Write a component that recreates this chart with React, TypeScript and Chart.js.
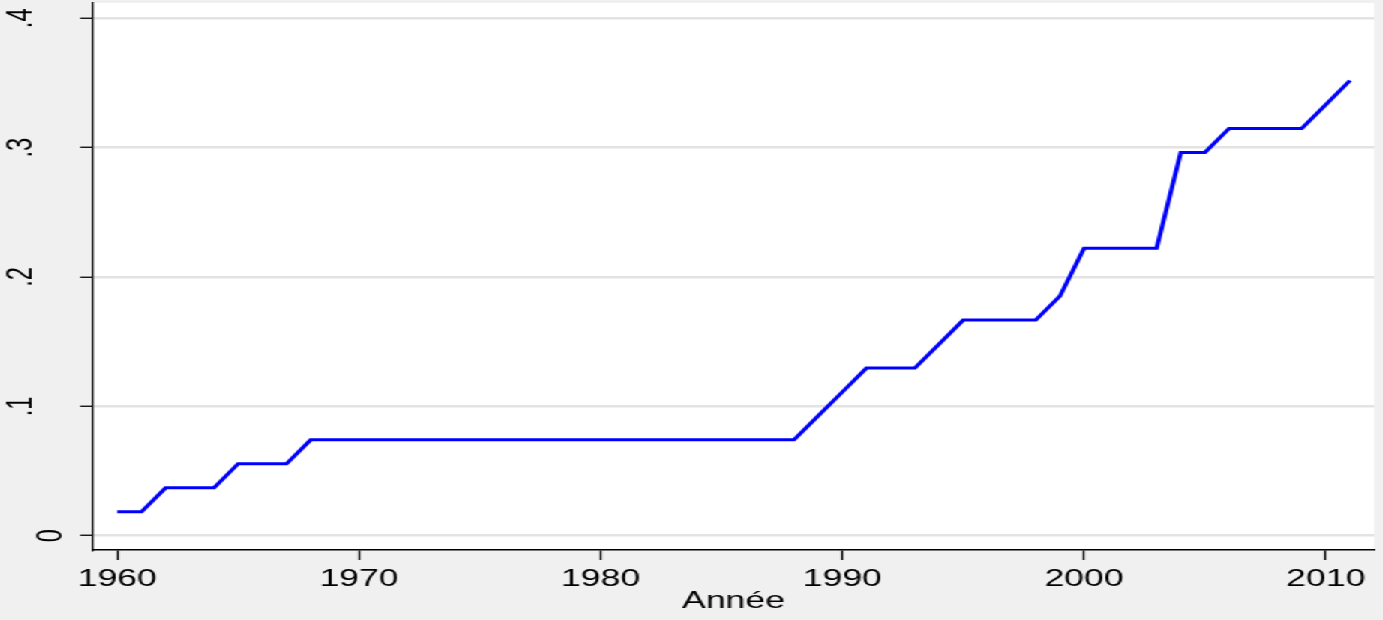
import { useEffect, useRef } from "react";
import { Chart, registerables } from "chart.js";

Chart.register(...registerables);

// ---- data ----
const years = [
  1960, 1961, 1962, 1963, 1964, 1965, 1966, 1967, 1968, 1969,
  1970, 1971, 1972, 1973, 1974, 1975, 1976, 1977, 1978, 1979,
  1980, 1981, 1982, 1983, 1984, 1985, 1986, 1987, 1988, 1989,
  1990, 1991, 1992, 1993, 1994, 1995, 1996, 1997, 1998, 1999,
  2000, 2001, 2002, 2003, 2004, 2005, 2006, 2007, 2008, 2009,
  2010, 2011,
];
const shares = [
  0.0185, 0.0185, 0.037, 0.037, 0.037, 0.0556, 0.0556, 0.0556, 0.0741, 0.0741,
  0.0741, 0.0741, 0.0741, 0.0741, 0.0741, 0.0741, 0.0741, 0.0741, 0.0741, 0.0741,
  0.0741, 0.0741, 0.0741, 0.0741, 0.0741, 0.0741, 0.0741, 0.0741, 0.0741, 0.0926,
  0.1111, 0.1296, 0.1296, 0.1296, 0.1481, 0.1667, 0.1667, 0.1667, 0.1667, 0.1852,
  0.2222, 0.2222, 0.2222, 0.2222, 0.2963, 0.2963, 0.3148, 0.3148, 0.3148, 0.3148,
  0.3333, 0.3519,
];
const xTickValues = [1960, 1970, 1980, 1990, 2000, 2010];
const xTickLabels = ["1960", "1970", "1980", "1990", "2000", "2010"];
const yTickValues = [0, 0.1, 0.2, 0.3, 0.4];
const yTickLabels = ["0", ".1", ".2", ".3", ".4"];
const xAxisTitle = "Année";

// ---- layout ----
const W = 922;
const H = 620;
const STRETCH = 1.5;
const FONT = "'Liberation Sans', Arial, Helvetica, sans-serif";
const FS = 23.7;

const backgroundPlugin = {
  id: "stataBackground",
  beforeDraw(chart: any) {
    const { ctx, chartArea: a } = chart;
    ctx.save();
    ctx.fillStyle = "#f0f0f0";
    ctx.fillRect(0, 0, chart.width, chart.height);
    ctx.fillStyle = "#ffffff";
    ctx.fillRect(a.left, a.top, a.right - a.left, a.bottom - a.top);
    ctx.restore();
  },
};

export default function App() {
  const ref = useRef<HTMLCanvasElement>(null);

  useEffect(() => {
    if (!ref.current) return;
    const chart = new Chart(ref.current, {
      type: "line",
      data: {
        datasets: [
          {
            data: years.map((yr, i) => ({ x: yr, y: shares[i] })),
            borderColor: "#0000ff",
            backgroundColor: "#0000ff",
            borderWidth: 3,
            pointRadius: 0,
            tension: 0,
            fill: false,
          },
        ],
      },
      options: {
        animation: false,
        responsive: false,
        devicePixelRatio: 1,
        layout: { padding: { top: 3, right: 5.8, bottom: 0, left: 0 } },
        plugins: {
          legend: { display: false },
          tooltip: { enabled: false },
          title: { display: false },
        },
        scales: {
          x: {
            type: "linear",
            min: 1959,
            max: 2012,
            afterBuildTicks: (s: any) => {
              s.ticks = xTickValues.map((v) => ({ value: v }));
            },
            afterFit: (s: any) => {
              s.height = 70;
              s.paddingLeft = 0;
              s.paddingRight = 0;
            },
            ticks: {
              autoSkip: false,
              maxRotation: 0,
              minRotation: 0,
              padding: 5.3,
              color: "#000",
              font: { family: FONT, size: FS },
              callback: (_v: any, i: number) => xTickLabels[i],
            },
            grid: {
              drawOnChartArea: false,
              drawTicks: true,
              tickLength: 10,
              tickColor: "#000",
              tickWidth: 1.3,
            },
            border: { display: true, color: "#000", width: 1.5 },
            title: {
              display: true,
              text: xAxisTitle,
              color: "#000",
              font: { family: FONT, size: FS },
              padding: { top: 0, bottom: 4.7 },
            },
          },
          y: {
            type: "linear",
            min: -0.01106,
            max: 0.4118,
            afterBuildTicks: (s: any) => {
              s.ticks = yTickValues.map((v) => ({ value: v }));
            },
            afterFit: (s: any) => {
              s.width = 62;
              s.paddingTop = 0;
              s.paddingBottom = 0;
            },
            ticks: {
              autoSkip: false,
              minRotation: 90,
              maxRotation: 90,
              crossAlign: "center",
              padding: 9.15,
              color: "#000",
              font: (c: any) => ({
                family: FONT,
                size: FS,
                lineHeight: c.tick && c.tick.value === 0 ? 1.2 : "40.6px",
              }),
              callback: (_v: any, i: number) =>
                i === 0 ? yTickLabels[i] : [yTickLabels[i], ""],
            },
            grid: {
              color: "#e3e3e3",
              lineWidth: 2.5,
              drawTicks: true,
              tickLength: 8.67,
              tickColor: "#000",
              tickWidth: 1.3,
            },
            border: { display: true, color: "#000", width: 1.3 },
          },
        },
      } as any,
      plugins: [backgroundPlugin],
    });
    return () => chart.destroy();
  }, []);

  return (
    <div
      style={{
        position: "fixed",
        left: 0,
        top: 0,
        width: W,
        height: H,
        background: "#f0f0f0",
        transform: `scaleX(${STRETCH})`,
        transformOrigin: "0 0",
      }}
    >
      <canvas
        ref={ref}
        width={W}
        height={H}
        style={{ display: "block", width: W, height: H }}
      />
    </div>
  );
}
